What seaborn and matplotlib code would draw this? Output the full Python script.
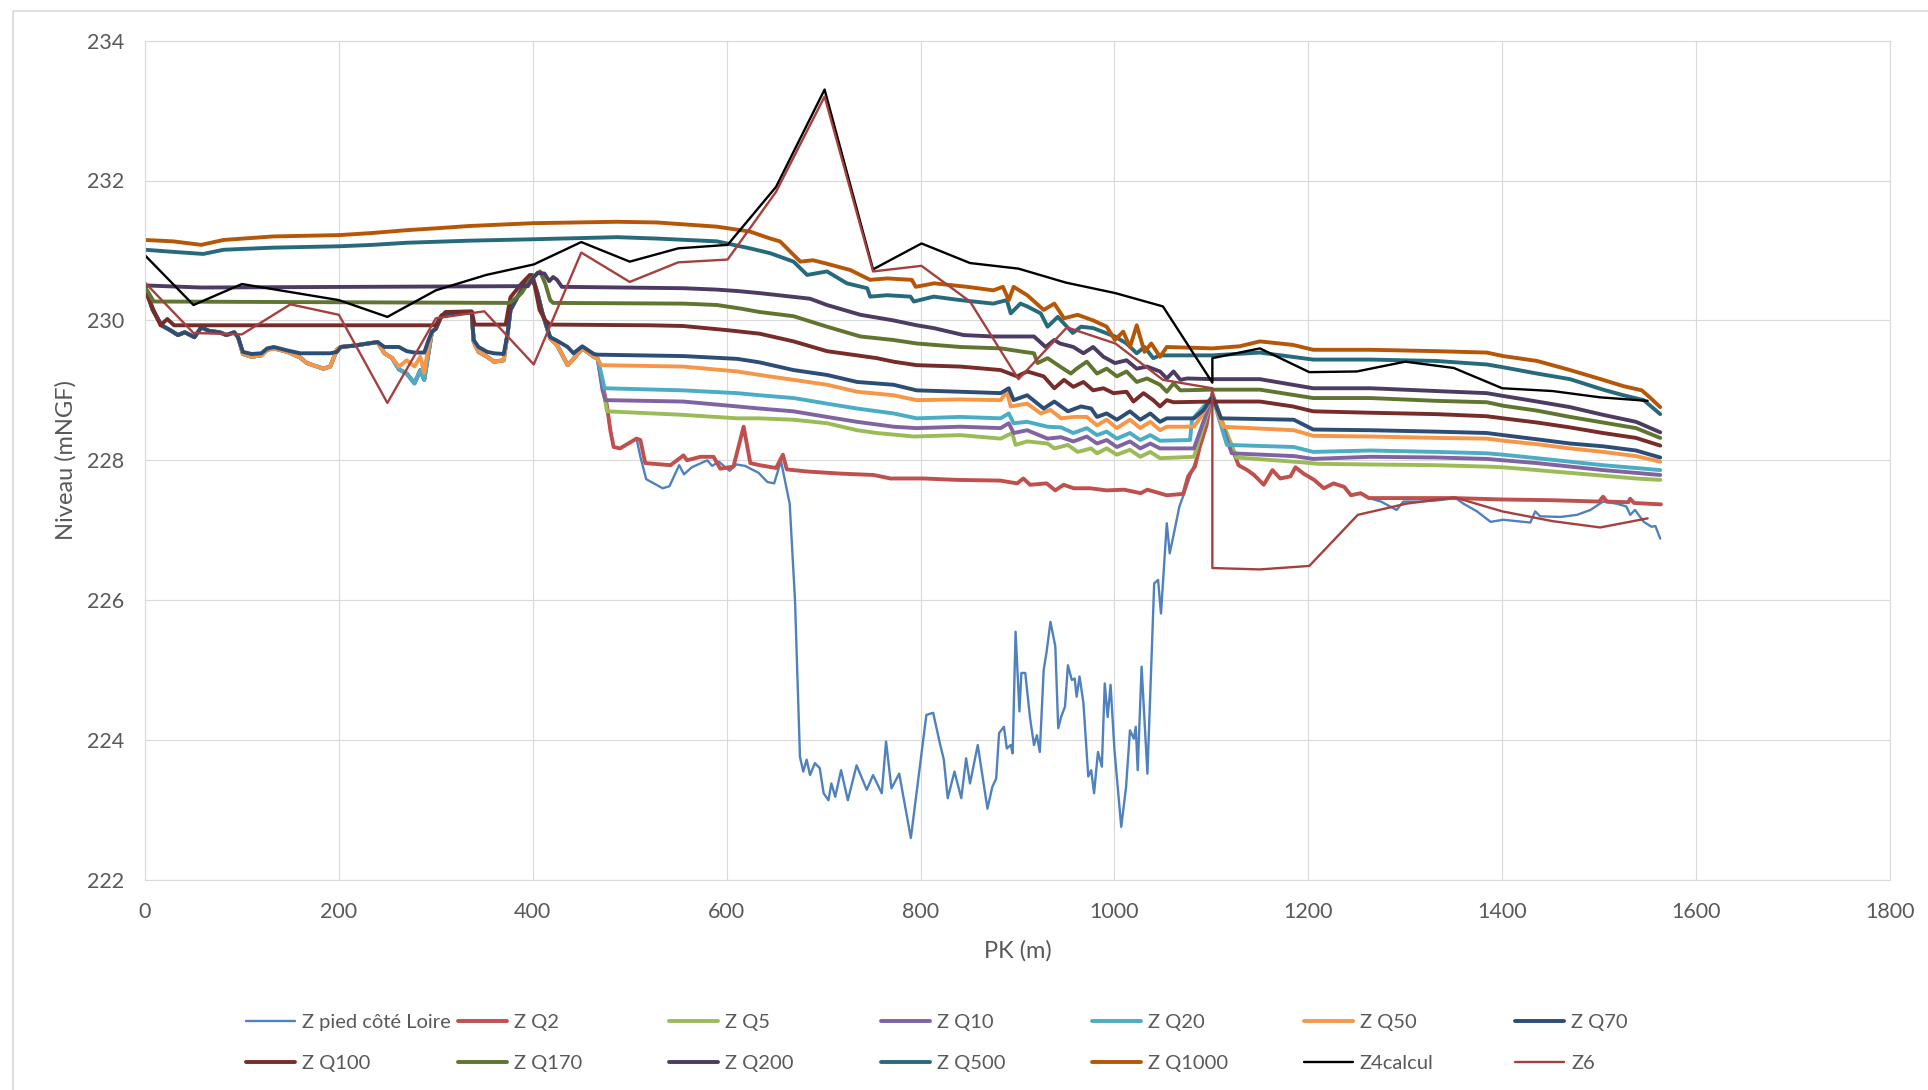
import matplotlib
matplotlib.use("Agg")
import matplotlib.pyplot as plt
import seaborn as sns
from matplotlib.patches import Rectangle

# tronçon amont commun (0 - 467 m)
pk_amont = [0, 8, 17, 26, 34, 41, 51, 58, 66, 77, 84, 92, 96, 101, 110, 120, 126, 133, 147, 160,
            167, 184, 191, 198, 202, 216, 230, 240, 247, 255, 262, 270, 278, 284, 288, 292, 296, 300, 306, 313,
            330, 337, 339, 344, 353, 360, 370, 374, 377, 384, 393, 399, 405, 410, 418, 425, 436, 442, 451, 463, 467]
z_amont_q70 = [230.48, 230.15, 229.93, 229.86, 229.79, 229.83, 229.76, 229.90, 229.85, 229.83,
               229.79, 229.83, 229.76, 229.55, 229.52, 229.53, 229.60, 229.62, 229.57, 229.53,
               229.53, 229.53, 229.53, 229.55, 229.62, 229.64, 229.67, 229.69, 229.62, 229.62,
               229.62, 229.56, 229.54, 229.54, 229.54, 229.70, 229.84, 229.88, 230.07, 230.10,
               230.11, 230.12, 229.72, 229.62, 229.55, 229.53, 229.52, 229.81, 230.15, 230.33,
               230.54, 230.65, 230.38, 230.10, 229.76, 229.71, 229.62, 229.53, 229.63, 229.52, 229.51]
z_amont_q50 = [230.48, 230.15, 229.93, 229.86, 229.79, 229.83, 229.76, 229.90, 229.85, 229.83,
               229.79, 229.83, 229.76, 229.52, 229.48, 229.50, 229.58, 229.60, 229.55, 229.47,
               229.39, 229.31, 229.34, 229.58, 229.62, 229.64, 229.67, 229.69, 229.53, 229.46,
               229.34, 229.43, 229.34, 229.48, 229.25, 229.60, 229.84, 229.88, 230.07, 230.10,
               230.11, 230.12, 229.70, 229.55, 229.48, 229.41, 229.43, 229.81, 230.15, 230.33,
               230.54, 230.65, 230.38, 230.10, 229.74, 229.65, 229.36, 229.45, 229.60, 229.48, 229.45]
z_amont_q20 = [230.48, 230.15, 229.93, 229.86, 229.79, 229.83, 229.76, 229.90, 229.85, 229.83,
               229.79, 229.83, 229.76, 229.52, 229.48, 229.50, 229.58, 229.60, 229.55, 229.47,
               229.39, 229.31, 229.34, 229.58, 229.62, 229.64, 229.67, 229.69, 229.53, 229.46,
               229.30, 229.24, 229.10, 229.29, 229.15, 229.50, 229.84, 229.88, 230.07, 230.10,
               230.11, 230.12, 229.70, 229.55, 229.48, 229.41, 229.43, 229.81, 230.15, 230.33,
               230.54, 230.65, 230.38, 230.10, 229.74, 229.65, 229.36, 229.45, 229.60, 229.48, 229.45]

# Z pied côté Loire
pk_pied = pk_amont + [476.6, 480, 483.4, 490, 507, 511, 517, 534, 541, 551,
                      556, 564, 580, 585, 592, 603, 610, 619, 633, 642, 649, 656,
                      665, 670.5, 675.6, 679, 682.5, 686, 691, 696, 700, 705,
                      708, 712, 718, 725, 734, 744.5, 751, 760, 764.4, 770,
                      778, 790, 806, 813, 820, 824, 828, 835, 842, 847,
                      851, 859, 869, 874, 878, 881, 886, 889, 893, 895,
                      898, 902, 904, 908, 913, 917, 920, 923, 927, 930,
                      934, 939, 942, 945, 949, 952, 956, 959, 961, 964,
                      968, 973, 976, 979, 983, 987, 990, 993, 996, 1000,
                      1007, 1012, 1016, 1020, 1022, 1024, 1028, 1034, 1041, 1045,
                      1048, 1054, 1057, 1062, 1067, 1072, 1078, 1084, 1092, 1101,
                      1112.6, 1121, 1128, 1137, 1144, 1154, 1163, 1171, 1181.6, 1186.7,
                      1195, 1206, 1216, 1226, 1237, 1244, 1254, 1262.5, 1275, 1291,
                      1298, 1315, 1335, 1352, 1360, 1374, 1388, 1401, 1429, 1434,
                      1439, 1460, 1477, 1491, 1504, 1518, 1528, 1532, 1537, 1546,
                      1554, 1558, 1563]
z_pied = z_amont_q20 + [228.77, 228.43, 228.19, 228.17, 228.31, 228.05, 227.73, 227.60, 227.63, 227.93,
                        227.80, 227.90, 228.0, 227.92, 227.98, 227.85, 227.94, 227.92, 227.82, 227.69, 227.67, 227.99,
                        227.38, 226.0, 223.76, 223.55, 223.72, 223.50, 223.67, 223.60, 223.24, 223.14,
                        223.38, 223.19, 223.57, 223.14, 223.64, 223.29, 223.50, 223.24, 223.98, 223.31,
                        223.52, 222.60, 224.36, 224.39, 223.95, 223.72, 223.17, 223.55, 223.17, 223.74,
                        223.38, 223.93, 223.02, 223.33, 223.45, 224.10, 224.19, 223.88, 223.93, 223.81,
                        225.55, 224.41, 224.96, 224.96, 224.31, 223.93, 224.07, 223.83, 225.0, 225.26,
                        225.69, 225.34, 224.17, 224.33, 224.48, 225.07, 224.86, 224.88, 224.62, 224.91,
                        224.53, 223.48, 223.57, 223.24, 223.83, 223.62, 224.81, 224.33, 224.79, 223.86,
                        222.76, 223.33, 224.14, 224.02, 224.19, 223.57, 225.05, 223.52, 226.24, 226.29,
                        225.81, 227.10, 226.67, 227.0, 227.34, 227.53, 227.77, 228.0, 228.4, 228.96,
                        228.48, 228.19, 227.93, 227.86, 227.79, 227.65, 227.86, 227.74, 227.77, 227.90,
                        227.81, 227.72, 227.60, 227.67, 227.62, 227.50, 227.53, 227.46, 227.41, 227.29,
                        227.41, 227.41, 227.43, 227.46, 227.38, 227.27, 227.12, 227.15, 227.11, 227.27,
                        227.20, 227.19, 227.22, 227.29, 227.41, 227.38, 227.34, 227.22, 227.29, 227.12,
                        227.05, 227.06, 226.88]

pk_q2 = pk_amont + [476.6, 480, 483.4, 490, 507, 511, 516, 542, 555.5, 559,
                    573, 586.5, 593.4, 607, 617.5, 624.4, 634, 651, 658, 662,
                    683, 717, 751.5, 769, 803, 837.5, 882, 899.6, 906, 913,
                    930, 939, 947.6, 958, 975, 992, 1010, 1027, 1034, 1054,
                    1071, 1076, 1083, 1088, 1095, 1101, 1112.6, 1121, 1128, 1137,
                    1144, 1154, 1163, 1171, 1181.6, 1186.7, 1195, 1206, 1216, 1226,
                    1237, 1244, 1254, 1262.5, 1305, 1349.5, 1400, 1450, 1500, 1504,
                    1508, 1530, 1532, 1536, 1563.7]
z_q2 = z_amont_q20 + [228.77, 228.43, 228.19, 228.17, 228.31, 228.29, 227.96, 227.93, 228.07, 228.0,
                      228.05, 228.05, 227.88, 227.91, 228.48, 227.96, 227.93, 227.89, 228.08, 227.87,
                      227.84, 227.81, 227.79, 227.74, 227.74, 227.72, 227.71, 227.67, 227.74, 227.65,
                      227.67, 227.57, 227.65, 227.60, 227.60, 227.57, 227.58, 227.53, 227.58, 227.50,
                      227.52, 227.77, 227.91, 228.19, 228.5, 228.96, 228.48, 228.19, 227.93, 227.86,
                      227.79, 227.65, 227.86, 227.74, 227.77, 227.90, 227.81, 227.72, 227.60, 227.67,
                      227.62, 227.50, 227.53, 227.46, 227.46, 227.46, 227.44, 227.43, 227.41, 227.48,
                      227.41, 227.40, 227.45, 227.39, 227.37]

pk_q5 = pk_amont + [476.6, 555, 611, 634, 669, 703.5, 734.5, 755, 793, 841,
                    882.6, 894.6, 898, 910, 931, 938, 952, 962, 976, 982,
                    992, 1002.5, 1016, 1026.6, 1037, 1047, 1082, 1101, 1126, 1195,
                    1210, 1264, 1332, 1384, 1401, 1436, 1470, 1504, 1538, 1563]
z_q5 = z_amont_q20 + [228.70, 228.65, 228.60, 228.60, 228.58, 228.53, 228.43, 228.39, 228.34, 228.36,
                      228.31, 228.39, 228.22, 228.27, 228.24, 228.17, 228.22, 228.12, 228.17, 228.10,
                      228.17, 228.08, 228.15, 228.05, 228.12, 228.03, 228.05, 228.91, 228.04, 227.97,
                      227.95, 227.94, 227.93, 227.91, 227.90, 227.86, 227.82, 227.78, 227.74, 227.72]

pk_q10 = pk_amont + [472, 475, 555, 611, 634, 669, 703.5, 734.5, 772, 796,
                     841, 882.6, 891, 896, 910, 931, 945, 957.6, 971.5, 982,
                     992, 1002.5, 1016, 1026.6, 1037, 1047, 1082, 1101, 1121, 1185,
                     1205, 1264, 1332, 1384, 1401, 1436, 1470, 1504, 1538, 1563]
z_q10 = z_amont_q20 + [229.0, 228.86, 228.84, 228.77, 228.74, 228.70, 228.62, 228.55, 228.48, 228.46,
                       228.48, 228.46, 228.53, 228.39, 228.43, 228.31, 228.33, 228.27, 228.34, 228.24,
                       228.29, 228.19, 228.27, 228.17, 228.24, 228.17, 228.17, 228.91, 228.10, 228.06,
                       228.02, 228.05, 228.04, 228.02, 228.0, 227.96, 227.91, 227.86, 227.82, 227.79]

pk_q20 = pk_amont + [470.6, 474, 555, 611, 634, 669, 703.5, 734.5, 772, 796,
                     841, 882.6, 891, 896, 910, 931, 945, 957.6, 971.5, 982,
                     992, 1002.5, 1016, 1026.6, 1037, 1047, 1078, 1080, 1101, 1116,
                     1185, 1205, 1264, 1332, 1384, 1401, 1436, 1470, 1504, 1538, 1563]
z_q20 = z_amont_q20 + [229.24, 229.03, 229.0, 228.96, 228.93, 228.89, 228.81, 228.74, 228.67, 228.60,
                       228.62, 228.60, 228.67, 228.53, 228.55, 228.48, 228.47, 228.39, 228.46, 228.36,
                       228.41, 228.31, 228.39, 228.29, 228.36, 228.28, 228.29, 228.58, 228.91, 228.22,
                       228.19, 228.12, 228.14, 228.12, 228.10, 228.08, 228.03, 227.98, 227.93, 227.89, 227.86]

pk_q50 = pk_amont + [470.6, 555, 611, 634, 669, 703.5, 734.5, 772, 796, 841,
                     882.6, 889, 893, 910, 924, 934, 945, 958.5, 971.5, 982,
                     992, 1002.5, 1016, 1026.6, 1037, 1047, 1054, 1082, 1089, 1101,
                     1112, 1185, 1205, 1264, 1332, 1384, 1401, 1436, 1470, 1504, 1538, 1563]
z_q50 = z_amont_q50 + [229.36, 229.34, 229.27, 229.22, 229.15, 229.08, 228.98, 228.93, 228.86, 228.87,
                       228.86, 228.98, 228.77, 228.81, 228.67, 228.72, 228.60, 228.62, 228.62, 228.50,
                       228.58, 228.46, 228.58, 228.46, 228.55, 228.43, 228.48, 228.48, 228.62, 228.91,
                       228.48, 228.43, 228.35, 228.34, 228.32, 228.31, 228.28, 228.23, 228.17, 228.12, 228.06, 227.98]

pk_q70 = pk_amont + [555.5, 611, 634, 669, 703.5, 734.5, 772, 796, 841, 882.6,
                     891, 896, 910, 927, 938, 952, 965.5, 976, 982, 992,
                     1002.5, 1016, 1026.6, 1037, 1047, 1054, 1082, 1092, 1101, 1110,
                     1185, 1205, 1264, 1332, 1384, 1401, 1436, 1470, 1504, 1538, 1563]
z_q70 = z_amont_q70 + [229.49, 229.45, 229.40, 229.29, 229.22, 229.12, 229.08, 229.0, 228.98, 228.96,
                       229.03, 228.86, 228.93, 228.74, 228.84, 228.70, 228.77, 228.74, 228.62, 228.67,
                       228.58, 228.70, 228.58, 228.67, 228.55, 228.60, 228.60, 228.72, 228.91, 228.60,
                       228.58, 228.44, 228.43, 228.41, 228.39, 228.36, 228.30, 228.24, 228.20, 228.14, 228.04]

pk_q100 = [0, 9, 16, 23, 30, 300, 305, 310, 337, 340, 372, 377, 388, 397, 402, 407, 413, 418, 521, 555,
           601, 634, 669, 703.5, 734.5, 755, 772, 796, 841, 882.6, 899.6, 910, 927, 938, 948, 957.6, 968, 978, 988.6, 999,
           1012.5, 1019.6, 1030, 1040, 1047, 1054, 1061, 1101, 1150, 1184, 1205, 1264, 1332, 1384, 1401, 1436, 1470, 1504, 1538, 1563]
z_q100 = [230.43, 230.14, 229.93, 230.02, 229.93, 229.93, 230.05, 230.12, 230.13, 229.94,
          229.94, 230.33, 230.52, 230.65, 230.50, 230.15, 230.0, 229.94, 229.93, 229.92,
          229.86, 229.81, 229.70, 229.56, 229.50, 229.46, 229.41, 229.36, 229.34, 229.29,
          229.20, 229.27, 229.20, 229.03, 229.15, 229.05, 229.12, 229.0, 229.03, 228.96,
          228.98, 228.84, 228.96, 228.86, 228.77, 228.86, 228.83, 228.84, 228.84, 228.77,
          228.70, 228.68, 228.66, 228.63, 228.60, 228.54, 228.47, 228.39, 228.32, 228.21]

pk_q170 = [0, 9, 375, 380, 388.5, 397, 407.5, 413, 418, 421, 555.5, 590, 614, 634, 669, 703.5, 738, 772, 796, 841,
           882.6, 906.6, 917, 920.7, 931, 945, 955, 961, 971.5, 982, 992, 1002.5, 1012.5, 1023, 1033.6, 1047, 1054, 1061, 1068, 1101,
           1150, 1205, 1264, 1332, 1384, 1401, 1436, 1470, 1504, 1538, 1563]
z_q170 = [230.48, 230.27, 230.25, 230.29, 230.39, 230.58, 230.70, 230.52, 230.29, 230.25,
          230.24, 230.22, 230.17, 230.12, 230.06, 229.91, 229.77, 229.72, 229.67, 229.62,
          229.60, 229.55, 229.53, 229.39, 229.46, 229.33, 229.24, 229.31, 229.41, 229.24,
          229.31, 229.20, 229.27, 229.12, 229.17, 229.08, 228.98, 229.10, 229.0, 229.01,
          229.01, 228.89, 228.89, 228.85, 228.83, 228.78, 228.71, 228.62, 228.54, 228.46, 228.32]

pk_q200 = [0, 58, 395, 400, 405, 412, 417, 421, 425, 430, 555.5, 590, 611, 634, 686, 703.5, 738, 772, 796, 813.6,
           844.5, 875, 917, 929, 938, 943.8, 957.6, 968, 978, 988.6, 1000.5, 1012.5, 1023, 1033.6, 1047, 1054, 1061, 1068, 1075, 1101,
           1150, 1205, 1264, 1332, 1384, 1401, 1436, 1470, 1504, 1538, 1563]
z_q200 = [230.50, 230.47, 230.49, 230.60, 230.68, 230.67, 230.56, 230.62, 230.58, 230.48,
          230.46, 230.44, 230.42, 230.39, 230.31, 230.22, 230.08, 230.0, 229.93, 229.89,
          229.79, 229.77, 229.77, 229.62, 229.72, 229.67, 229.62, 229.53, 229.62, 229.48,
          229.39, 229.43, 229.31, 229.34, 229.27, 229.17, 229.27, 229.15, 229.17, 229.16,
          229.16, 229.03, 229.03, 228.99, 228.96, 228.92, 228.84, 228.76, 228.65, 228.55, 228.40]

pk_q500 = [0, 29, 60, 81, 132, 201, 235, 270, 335, 401, 487, 528, 590, 624, 645, 669, 683, 703.5, 724, 745,
           748, 765.5, 789.6, 793, 813.6, 841, 875, 889, 893, 903, 910, 924, 931, 941.6, 957, 965.5, 978, 1000.5, 1012.5, 1023,
           1031, 1040, 1047, 1101, 1150, 1205, 1264, 1332, 1384, 1401, 1436, 1470, 1504, 1525, 1546, 1563]
z_q500 = [231.01, 230.98, 230.95, 231.01, 231.04, 231.06, 231.08, 231.11, 231.14, 231.16,
          231.19, 231.17, 231.13, 231.03, 230.96, 230.84, 230.65, 230.70, 230.53, 230.46,
          230.34, 230.36, 230.34, 230.27, 230.34, 230.29, 230.24, 230.29, 230.10, 230.24,
          230.20, 230.10, 229.91, 230.05, 229.82, 229.91, 229.89, 229.77, 229.67, 229.53,
          229.62, 229.46, 229.50, 229.50, 229.54, 229.44, 229.44, 229.42, 229.37, 229.33,
          229.24, 229.16, 229.01, 228.93, 228.86, 228.66]

pk_q1000 = [0, 29, 58, 81, 132, 201, 235, 270, 304, 335, 401, 487, 528, 590, 624, 645, 655, 676, 689, 703.5,
            727.5, 748, 765.5, 791, 795, 814, 848, 875, 885, 891, 896, 910, 927, 938, 948, 962, 978, 992, 1000.5, 1009,
            1016, 1023, 1031, 1038, 1047, 1054, 1101, 1129, 1150, 1184, 1205, 1264, 1332, 1384, 1401, 1436, 1470, 1504, 1525, 1544,
            1553, 1563]
z_q1000 = [231.15, 231.13, 231.08, 231.15, 231.20, 231.22, 231.25, 231.29, 231.32, 231.35,
           231.39, 231.41, 231.40, 231.34, 231.27, 231.17, 231.13, 230.84, 230.86, 230.81,
           230.72, 230.58, 230.60, 230.58, 230.48, 230.53, 230.48, 230.43, 230.48, 230.29,
           230.48, 230.36, 230.15, 230.24, 230.03, 230.08, 230.0, 229.91, 229.72, 229.84,
           229.62, 229.93, 229.55, 229.67, 229.48, 229.62, 229.60, 229.63, 229.70, 229.65,
           229.58, 229.58, 229.56, 229.54, 229.49, 229.42, 229.29, 229.15, 229.06, 229.0,
           228.89, 228.76]

pk_z4 = [0, 50, 100, 200, 250, 300, 352, 401, 450, 500, 550, 601, 651, 701, 751, 801, 851, 901, 950, 1001,
         1050, 1101, 1101, 1150, 1201, 1250, 1300, 1350, 1400, 1452, 1501, 1550]
z_z4 = [230.93, 230.22, 230.52, 230.29, 230.05, 230.43, 230.65, 230.80, 231.12, 230.84,
        231.03, 231.08, 231.91, 233.30, 230.73, 231.10, 230.82, 230.74, 230.54, 230.39,
        230.20, 229.11, 229.46, 229.60, 229.26, 229.27, 229.41, 229.32, 229.03, 228.99, 228.90, 228.85]

pk_z6 = [0, 50, 100, 150, 200, 250, 300, 350, 401, 450, 500, 550, 601, 651, 701, 751, 801, 851, 901, 951,
         1001, 1050, 1101, 1101, 1150, 1201, 1251, 1301, 1351, 1400, 1452, 1501, 1550]
z_z6 = [230.54, 229.82, 229.80, 230.23, 230.08, 228.82, 230.03, 230.13, 229.37, 230.97,
        230.55, 230.83, 230.87, 231.84, 233.20, 230.70, 230.78, 230.27, 229.16, 229.90,
        229.67, 229.15, 229.03, 226.46, 226.44, 226.49, 227.22, 227.38, 227.47, 227.27, 227.13, 227.04, 227.17]

series = [
    ("Z pied côté Loire", pk_pied, z_pied, "#4F81BD", 1.7),
    ("Z Q2", pk_q2, z_q2, "#C0504D", 2.8),
    ("Z Q5", pk_q5, z_q5, "#9BBB59", 2.8),
    ("Z Q10", pk_q10, z_q10, "#8064A2", 2.8),
    ("Z Q20", pk_q20, z_q20, "#4BACC6", 2.8),
    ("Z Q50", pk_q50, z_q50, "#F79646", 2.8),
    ("Z Q70", pk_q70, z_q70, "#2C4D75", 2.8),
    ("Z Q100", pk_q100, z_q100, "#772C2A", 2.8),
    ("Z Q170", pk_q170, z_q170, "#5F7530", 2.8),
    ("Z Q200", pk_q200, z_q200, "#4D3B62", 2.8),
    ("Z Q500", pk_q500, z_q500, "#276A7C", 2.8),
    ("Z Q1000", pk_q1000, z_q1000, "#B65708", 2.8),
    ("Z4calcul", pk_z4, z_z4, "#000000", 1.7),
    ("Z6", pk_z6, z_z6, "#A5403E", 1.7),
]

sns.set_style("whitegrid", {"grid.color": "#D9D9D9", "axes.edgecolor": "#D9D9D9"})
plt.rcParams["font.family"] = ["Lato", "DejaVu Sans"]
txt_col = "#595959"

fig = plt.figure(figsize=(19.28, 10.9), dpi=100)
ax = fig.add_axes([145 / 1928, 210 / 1090, 1745 / 1928, 839.4 / 1090])

for lab, x, y, col, lw in series:
    sns.lineplot(x=x, y=y, ax=ax, color=col, linewidth=lw, estimator=None,
                 sort=False, label=lab)

ax.set_xlim(0, 1800)
ax.set_ylim(222, 234)
ax.set_xticks(range(0, 1801, 200))
ax.set_yticks(range(222, 235, 2))
ax.tick_params(axis="both", length=0, labelsize=15.5, colors=txt_col)
ax.tick_params(axis="y", pad=15)
ax.tick_params(axis="x", pad=15.5)
ax.set_xlabel("PK (m)", fontsize=17, color=txt_col)
ax.set_ylabel("Niveau (mNGF)", fontsize=17, color=txt_col)
ax.xaxis.set_label_coords(0.5, -0.072)
ax.yaxis.set_label_coords(-0.039, 0.5)
for s in ax.spines.values():
    s.set_color("#D9D9D9")

# légende sur deux lignes, colonnes à largeur fixe
handles, labels = ax.get_legend_handles_labels()
ax.get_legend().remove()
for c in range(7):
    fig.legend([handles[c], handles[c + 7]], [labels[c], labels[c + 7]],
               loc="upper left", bbox_to_anchor=((246 + 211.5 * c) / 1928, 1 - 1013.5 / 1090),
               frameon=False, fontsize=14.5, handlelength=2.45, handletextpad=0.35,
               labelspacing=1.2, borderpad=0, borderaxespad=0, labelcolor=txt_col)

# cadre du graphique
fig.patches.append(Rectangle((13 / 1928, -0.05), 1.0, 1.05 - 11.5 / 1090,
                             transform=fig.transFigure, fill=False,
                             edgecolor="#D9D9D9", linewidth=1.2))

fig.savefig("out.png", dpi=100)
